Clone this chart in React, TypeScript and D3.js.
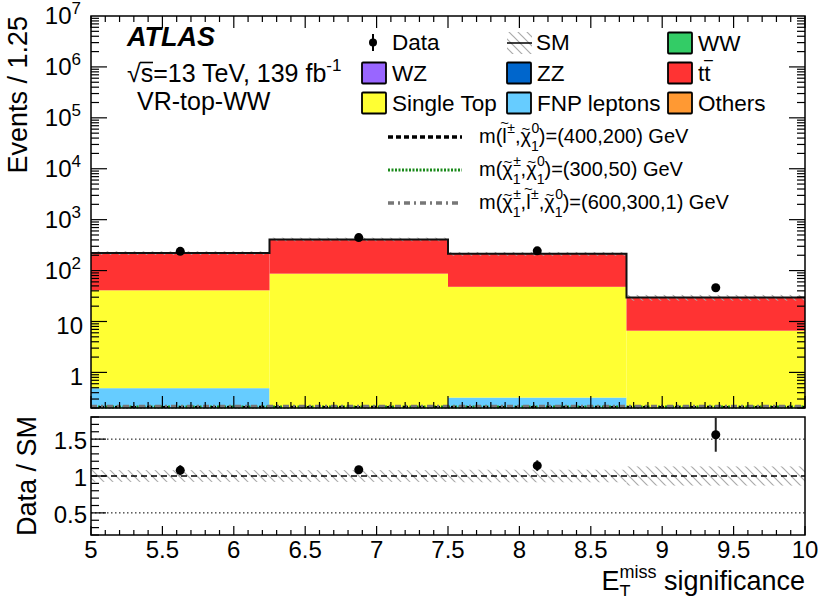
import React from 'react';
import * as d3 from 'd3';

// bins of E_T^miss significance
const binEdges = [5, 6.25, 7.5, 8.75, 10];
const binCenters = [5.625, 6.875, 8.125, 9.375];

// backgrounds, stacked bottom -> top
const ww = [0.05, 0.04, 0.03, 0.02];
const wz = [0.02, 0.02, 0.01, 0.01];
const zz = [0.01, 0.01, 0.01, 0.0];
const others = [0.03, 0.05, 0.03, 0.01];
const fnp = [0.38, 0.0, 0.24, 0.0];
const singleTop = [40.5, 86.9, 47.7, 6.56];
const ttbar = [181, 323, 166, 22.9];

const smRelUnc = [0.08, 0.08, 0.085, 0.13];

const dataCounts = [239, 445, 244, 46];
const dataErr = [15.5, 21, 15.6, 6.8];

// signals (all below the visible range)
const sigSlep = [0.12, 0.1, 0.08, 0.06];
const sigC1 = [0.1, 0.09, 0.07, 0.05];
const sigC1Slep = [0.14, 0.11, 0.09, 0.07];

const stackDefs = [
  { name: 'WW', vals: ww, color: '#33cc66' },
  { name: 'WZ', vals: wz, color: '#9966ff' },
  { name: 'ZZ', vals: zz, color: '#0066cc' },
  { name: 'Others', vals: others, color: '#ff9933' },
  { name: 'FNP leptons', vals: fnp, color: '#66ccff' },
  { name: 'Single Top', vals: singleTop, color: '#ffff33' },
  { name: 'ttbar', vals: ttbar, color: '#ff3333' },
];

const yMajor = [1, 10, 100, 1e3, 1e4, 1e5, 1e6, 1e7];
const ratioMajor = [0.5, 1, 1.5];
const xLabels = [5, 5.5, 6, 6.5, 7, 7.5, 8, 8.5, 9, 9.5, 10];

const FONT = '"Liberation Sans", Arial, Helvetica, sans-serif';

const L = 91, R = 805, T = 16, B = 408;
const RT = 417, RB = 535;

export default function App() {
  const x = d3.scaleLinear().domain([5, 10]).range([L, R]);
  const y = d3.scaleLog().domain([0.2, 1e7]).range([B, T]).clamp(true);
  const yr = d3.scaleLinear().domain([0.2, 1.8]).range([RB, RT]);

  // cumulative stack
  const cum: number[][] = [];
  let prev = binCenters.map(() => 0);
  stackDefs.forEach((s) => {
    const next = prev.map((p, i) => p + s.vals[i]);
    cum.push(next);
    prev = next;
  });
  const totals = prev;

  const step = (vals: number[], f: (v: number) => number) => {
    const pts = vals.map((v, i) => [x(binEdges[i]), f(v)] as [number, number]);
    pts.push([x(binEdges[vals.length]), f(vals[vals.length - 1])]);
    return d3.line().curve(d3.curveStepAfter)(pts) || '';
  };

  const xMinor = d3.range(0, 51).map((i) => 5 + i * 0.1);
  const yMinor: number[] = [];
  for (let d = -1; d < 7; d++) {
    for (let k = 1; k < 10; k++) {
      const v = k * Math.pow(10, d);
      if (v >= 0.2 && v <= 1e7) yMinor.push(v);
    }
  }
  const rMinor = d3.range(0, 17).map((i) => 0.2 + i * 0.1);

  const isMajorX = (v: number) => Math.abs(v * 2 - Math.round(v * 2)) < 1e-6;
  const isDecade = (v: number) => Math.abs(Math.log10(v) - Math.round(Math.log10(v))) < 1e-6;

  const legendBoxes = [
    { label: 'WW', color: '#33cc66', lx: 668, ly: 43 },
    { label: 'WZ', color: '#9966ff', lx: 362, ly: 73 },
    { label: 'ZZ', color: '#0066cc', lx: 507, ly: 73 },
    { label: 'tt', color: '#ff3333', lx: 668, ly: 73 },
    { label: 'Single Top', color: '#ffff33', lx: 362, ly: 103 },
    { label: 'FNP leptons', color: '#66ccff', lx: 507, ly: 103 },
    { label: 'Others', color: '#ff9933', lx: 668, ly: 103 },
  ];

  // particle symbol with tilde and stacked super/subscript
  const part = (base: string, baseW: number, tildeY: number, sup: string, sub: string | null, by: number, key: string) => {
    const tW = 8.8;
    const supW = 8.2;
    const out = [
      <tspan key={key + 'b'} y={by}>{base}</tspan>,
      <tspan key={key + 't'} fontSize={15} y={by - tildeY} dx={-(baseW / 2 + tW / 2)}>~</tspan>,
      <tspan key={key + 's'} fontSize={14} y={by - 10} dx={baseW / 2 - tW / 2 + 0.5}>{sup}</tspan>,
    ];
    if (sub) {
      out.push(<tspan key={key + 'u'} fontSize={14} y={by + 8} dx={-supW}>{sub}</tspan>);
    }
    return out;
  };

  const sigLegend = [
    { y: 137, style: { stroke: '#000', dash: '5,3', w: 3.5 } },
    { y: 170, style: { stroke: '#1a8a1a', dash: '2,1.5', w: 3 } },
    { y: 203, style: { stroke: '#777', dash: '6,4,2,4', w: 3.5 } },
  ];

  return (
    <svg width={830} height={596} style={{ position: 'absolute', left: 0, top: 0, background: '#fff' }} fontFamily={FONT}>
      <defs>
        <pattern id="hatch" patternUnits="userSpaceOnUse" width={9} height={9}>
          <path d="M0,0 L9,9 M-1,8 L1,10 M8,-1 L10,1" stroke="#aaa" strokeWidth={1.2} />
        </pattern>
        <clipPath id="mainClip"><rect x={L} y={T} width={R - L} height={B - T} /></clipPath>
        <clipPath id="ratioClip"><rect x={L} y={RT} width={R - L} height={RB - RT} /></clipPath>
      </defs>

      {/* main stack */}
      <g clipPath="url(#mainClip)">
        {stackDefs.map((s, si) =>
          binCenters.map((_, i) => {
            const lo = si === 0 ? 0.2 : Math.max(cum[si - 1][i], 0.2);
            const hi = cum[si][i];
            if (hi <= 0.2) return null;
            return (
              <rect key={s.name + i} x={x(binEdges[i])} width={x(binEdges[i + 1]) - x(binEdges[i])}
                y={y(hi)} height={y(lo) - y(hi)} fill={s.color} />
            );
          })
        )}
        {totals.map((t, i) => (
          <rect key={'h' + i} x={x(binEdges[i])} width={x(binEdges[i + 1]) - x(binEdges[i])}
            y={y(t * (1 + smRelUnc[i]))} height={y(t * (1 - smRelUnc[i])) - y(t * (1 + smRelUnc[i]))}
            fill="url(#hatch)" />
        ))}
        <path d={step(totals, y)} fill="none" stroke="#111" strokeWidth={2} />
      </g>

      {/* signals, below range -> drawn on bottom edge */}
      <path d={step(sigC1, (v) => y(v) - 1)} fill="none" stroke="#1a8a1a" strokeWidth={3} strokeDasharray="2,1.5" />
      <path d={step(sigSlep, (v) => y(v) - 1)} fill="none" stroke="#000" strokeWidth={2} strokeDasharray="5,3" />
      <path d={step(sigC1Slep, (v) => y(v) - 1.5)} fill="none" stroke="#777" strokeWidth={3.5} strokeDasharray="6,4,2,4" />

      {/* main data */}
      {dataCounts.map((d, i) => (
        <g key={'d' + i}>
          <line x1={x(binCenters[i])} x2={x(binCenters[i])} y1={y(d - dataErr[i])} y2={y(d + dataErr[i])} stroke="#000" strokeWidth={2} />
          <circle cx={x(binCenters[i])} cy={y(d)} r={4.5} fill="#000" />
        </g>
      ))}

      {/* main frame and ticks */}
      <rect x={L} y={T} width={R - L} height={B - T} fill="none" stroke="#000" strokeWidth={1.5} />
      {xMinor.map((v) => {
        const len = isMajorX(v) ? 12 : 6;
        return (
          <g key={'xt' + v}>
            <line x1={x(v)} x2={x(v)} y1={B} y2={B - len} stroke="#000" strokeWidth={1.2} />
            <line x1={x(v)} x2={x(v)} y1={T} y2={T + len} stroke="#000" strokeWidth={1.2} />
          </g>
        );
      })}
      {yMinor.map((v) => {
        const len = isDecade(v) ? 16 : 8;
        return (
          <g key={'yt' + v}>
            <line x1={L} x2={L + len} y1={y(v)} y2={y(v)} stroke="#000" strokeWidth={1.2} />
            <line x1={R} x2={R - len} y1={y(v)} y2={y(v)} stroke="#000" strokeWidth={1.2} />
          </g>
        );
      })}
      {yMajor.map((v) => {
        const e = Math.round(Math.log10(v));
        if (e < 2) {
          return (
            <text key={'yl' + v} x={83} y={y(v) + 13} textAnchor="end" fontSize={24}>{String(v)}</text>
          );
        }
        return (
          <text key={'yl' + v} x={81} y={y(v) + 8} textAnchor="end" fontSize={24}>
            10<tspan fontSize={17} dy={-10}>{e}</tspan>
          </text>
        );
      })}
      <text transform={`translate(27,${T}) rotate(-90)`} textAnchor="end" fontSize={27}>Events / 1.25</text>

      {/* labels */}
      <text x={127} y={46} fontSize={27} fontWeight="bold" fontStyle="italic">ATLAS</text>
      <text x={127} y={82} fontSize={25}>
        √s=13 TeV, 139 fb<tspan fontSize={17} dy={-11}>-1</tspan>
      </text>
      <line x1={140} x2={153} y1={62.5} y2={62.5} stroke="#000" strokeWidth={1.6} />
      <text x={137} y={110} fontSize={25}>VR-top-WW</text>

      {/* legend */}
      <line x1={373} x2={373} y1={34} y2={51} stroke="#000" strokeWidth={2} />
      <circle cx={373} cy={42.5} r={4} fill="#000" />
      <text x={392} y={50} fontSize={22.5}>Data</text>
      <rect x={507} y={32} width={25} height={22} fill="url(#hatch)" />
      <line x1={507} x2={532} y1={43} y2={43} stroke="#000" strokeWidth={1.5} />
      <text x={536} y={50} fontSize={22.5}>SM</text>
      {legendBoxes.map((b) => (
        <g key={b.label}>
          <rect x={b.lx} y={b.ly - 10.5} width={24} height={21} fill={b.color} stroke="#000" strokeWidth={1.8} rx={1} />
          {b.label === 'tt' ? (
            <text x={b.lx + 30} y={b.ly + 8} fontSize={22.5}>t<tspan>t</tspan>
              <tspan x={b.lx + 36} dx={0} y={b.ly - 8} fontSize={16}>{'\u2013'}</tspan>
            </text>
          ) : (
            <text x={b.lx + 30} y={b.ly + 8} fontSize={22.5}>{b.label}</text>
          )}
        </g>
      ))}
      {sigLegend.map((s, i) => (
        <line key={'sl' + i} x1={388} x2={462} y1={s.y} y2={s.y} stroke={s.style.stroke}
          strokeWidth={s.style.w} strokeDasharray={s.style.dash} />
      ))}
      <text x={479} y={143} fontSize={20}>
        <tspan>m(</tspan>
        {part('l', 4.4, 15, '\u00b1', null, 143, 'a')}
        <tspan y={143}>,</tspan>
        {part('\u03c7', 10, 9, '0', '1', 143, 'b')}
        <tspan y={143}>)=(400,200) GeV</tspan>
      </text>
      <text x={479} y={176} fontSize={20}>
        <tspan>m(</tspan>
        {part('\u03c7', 10, 9, '\u00b1', '1', 176, 'c')}
        <tspan y={176}>,</tspan>
        {part('\u03c7', 10, 9, '0', '1', 176, 'd')}
        <tspan y={176}>)=(300,50) GeV</tspan>
      </text>
      <text x={479} y={209} fontSize={20}>
        <tspan>m(</tspan>
        {part('\u03c7', 10, 9, '\u00b1', '1', 209, 'e')}
        <tspan y={209}>,</tspan>
        {part('l', 4.4, 15, '\u00b1', null, 209, 'f')}
        <tspan y={209}>,</tspan>
        {part('\u03c7', 10, 9, '0', '1', 209, 'g')}
        <tspan y={209}>)=(600,300,1) GeV</tspan>
      </text>

      {/* ratio panel */}
      <g clipPath="url(#ratioClip)">
        {totals.map((t, i) => (
          <rect key={'rb' + i} x={x(binEdges[i])} width={x(binEdges[i + 1]) - x(binEdges[i])}
            y={yr(1 + smRelUnc[i])} height={yr(1 - smRelUnc[i]) - yr(1 + smRelUnc[i])} fill="url(#hatch)" />
        ))}
        <line x1={L} x2={R} y1={yr(1)} y2={yr(1)} stroke="#000" strokeWidth={1.3} strokeDasharray="6,4" />
        {[0.5, 1.5].map((v) => (
          <line key={'rd' + v} x1={L} x2={R} y1={yr(v)} y2={yr(v)} stroke="#000" strokeWidth={1} strokeDasharray="1.5,2.5" />
        ))}
        {dataCounts.map((d, i) => {
          const r = d / totals[i];
          const e = dataErr[i] / totals[i];
          return (
            <g key={'rp' + i}>
              <line x1={x(binCenters[i])} x2={x(binCenters[i])} y1={yr(r - e)} y2={yr(r + e)} stroke="#222" strokeWidth={2} />
              <circle cx={x(binCenters[i])} cy={yr(r)} r={4.5} fill="#000" />
            </g>
          );
        })}
      </g>
      <rect x={L} y={RT} width={R - L} height={RB - RT} fill="none" stroke="#000" strokeWidth={1.5} />
      {xMinor.map((v) => (
        <line key={'rxt' + v} x1={x(v)} x2={x(v)} y1={RB} y2={RB - (isMajorX(v) ? 9 : 5)} stroke="#000" strokeWidth={1.2} />
      ))}
      {rMinor.map((v) => {
        const major = ratioMajor.some((m) => Math.abs(m - v) < 1e-6);
        return <line key={'ryt' + v} x1={L} x2={L + (major ? 15 : 8)} y1={yr(v)} y2={yr(v)} stroke="#000" strokeWidth={1.2} />;
      })}
      {ratioMajor.map((v) => (
        <text key={'rl' + v} x={87} y={yr(v) + 10} textAnchor="end" fontSize={24}>{String(v)}</text>
      ))}
      {xLabels.map((v) => (
        <text key={'xl' + v} x={x(v)} y={558} textAnchor="middle" fontSize={24}>{String(v)}</text>
      ))}
      <text transform={`translate(36,476) rotate(-90)`} textAnchor="middle" fontSize={27}>Data / SM</text>
      <text x={805} y={590} textAnchor="end" fontSize={27}>
        E<tspan fontSize={18} dy={-12}>miss</tspan>
        <tspan fontSize={18} dx={-37} dy={20}>T</tspan>
        <tspan dx={26} dy={-8}> significance</tspan>
      </text>
    </svg>
  );
}
